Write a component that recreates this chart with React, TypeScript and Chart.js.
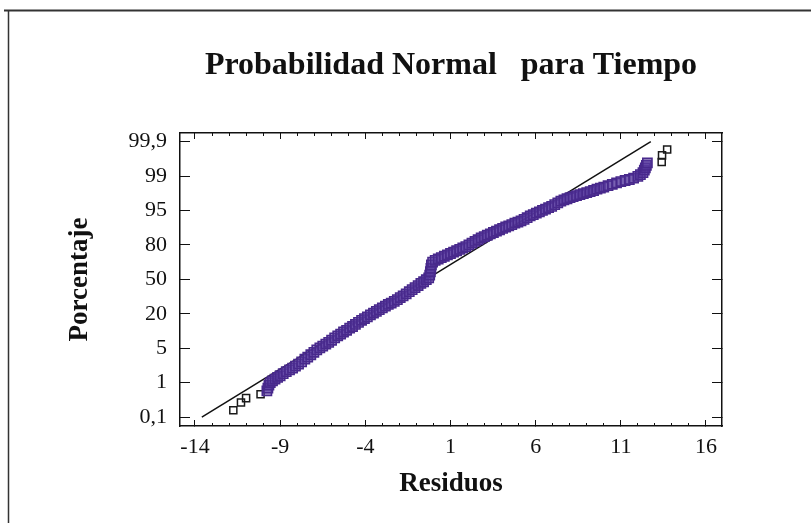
import React, { useEffect, useRef } from "react";
import { Chart, registerables } from "chart.js";

Chart.register(...registerables);

// ---- Data ----
const chartTitle = "Probabilidad Normal   para Tiempo";
const xAxisTitle = "Residuos";
const yAxisTitle = "Porcentaje";

// Probability tick labels (equally spaced positions 0..8 on the plot)
const yTickLabels = ["0,1", "1", "5", "20", "50", "80", "95", "99", "99,9"];
const yTickPositions = [0, 1, 2, 3, 4, 5, 6, 7, 8];

// Residual axis tick labels
const xMajorTicks = [-14, -9, -4, 1, 6, 11, 16];
const xMinorTicks = [
  -14, -13, -12, -11, -10, -9, -8, -7, -6, -5, -4, -3, -2, -1, 0, 1, 2, 3, 4, 5,
  6, 7, 8, 9, 10, 11, 12, 13, 14, 15, 16,
];
const xRange = [-14.88, 16.94];
const yRange = [-0.26, 8.25];

// Main residuals [residual, probability position]
const mainPoints: [number, number][] = [
  [-9.78, 0.76], [-9.72, 0.84], [-9.66, 0.93], [-9.58, 1.0], [-9.45, 1.05],
  [-9.3, 1.1], [-9.15, 1.15], [-9.0, 1.2], [-8.82, 1.26], [-8.64, 1.32],
  [-8.45, 1.37], [-8.27, 1.42], [-8.1, 1.48], [-7.92, 1.54], [-7.74, 1.6],
  [-7.55, 1.68], [-7.38, 1.74], [-7.2, 1.81], [-7.02, 1.88], [-6.85, 1.95],
  [-6.67, 2.01], [-6.5, 2.06], [-6.32, 2.12], [-6.15, 2.17], [-5.98, 2.23],
  [-5.8, 2.3], [-5.62, 2.36], [-5.45, 2.41], [-5.28, 2.47], [-5.1, 2.52],
  [-4.92, 2.58], [-4.75, 2.63], [-4.58, 2.69], [-4.4, 2.75], [-4.22, 2.81],
  [-4.05, 2.86], [-3.88, 2.91], [-3.7, 2.97], [-3.52, 3.02], [-3.35, 3.07],
  [-3.18, 3.12], [-3.0, 3.17], [-2.82, 3.22], [-2.65, 3.27], [-2.48, 3.31],
  [-2.3, 3.36], [-2.12, 3.41], [-1.95, 3.47], [-1.78, 3.52], [-1.6, 3.58],
  [-1.42, 3.64], [-1.25, 3.7], [-1.08, 3.76], [-0.9, 3.82], [-0.74, 3.88],
  [-0.58, 3.93], [-0.42, 3.99], [-0.28, 4.04], [-0.22, 4.12], [-0.18, 4.22],
  [-0.15, 4.32], [-0.12, 4.42], [-0.05, 4.5], [0.1, 4.55], [0.28, 4.59],
  [0.46, 4.63], [0.64, 4.67], [0.82, 4.71], [1.0, 4.75], [1.18, 4.79],
  [1.36, 4.83], [1.54, 4.87], [1.72, 4.91], [1.9, 4.95], [2.08, 5.0],
  [2.26, 5.05], [2.44, 5.1], [2.62, 5.15], [2.8, 5.2], [2.98, 5.24],
  [3.16, 5.28], [3.34, 5.32], [3.52, 5.36], [3.7, 5.4], [3.88, 5.44],
  [4.06, 5.48], [4.24, 5.52], [4.42, 5.55], [4.6, 5.59], [4.78, 5.63],
  [4.96, 5.66], [5.14, 5.7], [5.32, 5.74], [5.5, 5.79], [5.68, 5.84],
  [5.86, 5.88], [6.04, 5.92], [6.22, 5.96], [6.4, 6.0], [6.58, 6.04],
  [6.76, 6.08], [6.94, 6.12], [7.12, 6.17], [7.3, 6.22], [7.48, 6.27],
  [7.66, 6.31], [7.84, 6.34], [8.02, 6.37], [8.2, 6.4], [8.4, 6.43],
  [8.6, 6.46], [8.8, 6.49], [9.0, 6.52], [9.2, 6.55], [9.4, 6.58],
  [9.6, 6.62], [9.8, 6.65], [10.0, 6.68], [10.25, 6.72], [10.5, 6.76],
  [10.75, 6.8], [11.0, 6.84], [11.25, 6.87], [11.5, 6.9], [11.75, 6.94],
  [12.0, 6.99], [12.15, 7.04], [12.3, 7.1], [12.38, 7.17], [12.44, 7.24],
  [12.5, 7.31], [12.56, 7.38],
];

// Extreme residuals (black squares)
const extremePoints: [number, number][] = [
  [-11.75, 0.2], [-11.3, 0.42], [-11.0, 0.55], [-10.15, 0.66],
  [13.4, 7.41], [13.42, 7.6], [13.72, 7.77],
];

// Reference normal line endpoints
const fitLine: [number, number][] = [
  [-13.6, 0],
  [12.76, 8],
];

const FONT = "'Liberation Serif', 'Times New Roman', serif";

const framePlugin = {
  id: "pageFrame",
  beforeDraw(chart: any) {
    const c = chart.ctx;
    c.save();
    c.strokeStyle = "#333";
    c.lineWidth = 2;
    c.beginPath();
    c.moveTo(4, 10.5);
    c.lineTo(811, 10.5);
    c.stroke();
    c.lineWidth = 1.5;
    c.beginPath();
    c.moveTo(8.5, 10);
    c.lineTo(8.5, 523);
    c.stroke();
    c.restore();
  },
};

function tickAxis(position: string, values: number[], len: number, extra: any = {}) {
  const isX = position === "top" || position === "bottom";
  const range = isX ? xRange : yRange;
  return {
    type: "linear",
    position,
    min: range[0],
    max: range[1],
    afterBuildTicks: (scale: any) => {
      scale.ticks = values.map((v) => ({ value: v }));
    },
    grid: {
      display: true,
      drawOnChartArea: false,
      drawTicks: true,
      tickLength: -len,
      lineWidth: 1,
      color: "#111",
      tickColor: "#111",
    },
    border: { display: false },
    ticks: { display: false, autoSkip: false },
    afterFit: (scale: any) => {
      if (isX) scale.height = 0;
      else scale.width = 0;
    },
    ...extra,
  };
}

export default function App() {
  const ref = useRef<HTMLCanvasElement | null>(null);

  useEffect(() => {
    if (!ref.current) return;
    const chart = new Chart(ref.current, {
      type: "scatter",
      data: {
        datasets: [
          {
            label: "Residuos",
            data: mainPoints.map(([x, y]) => ({ x, y })),
            pointStyle: "rect",
            pointRadius: 6.5,
            pointHoverRadius: 6.5,
            borderWidth: 1.6,
            borderColor: "#48298c",
            backgroundColor: "rgba(88,58,158,0.55)",
            order: 1,
          },
          {
            label: "Extremos",
            data: extremePoints.map(([x, y]) => ({ x, y })),
            pointStyle: "rect",
            pointRadius: 5,
            pointHoverRadius: 5,
            borderWidth: 1.5,
            borderColor: "#1a1a1a",
            backgroundColor: "rgba(255,255,255,0)",
            order: 1,
          },
          {
            label: "Normal",
            data: fitLine.map(([x, y]) => ({ x, y })),
            showLine: true,
            pointRadius: 0,
            borderColor: "#111",
            borderWidth: 1.5,
            order: 2,
          } as any,
        ],
      },
      options: {
        animation: false,
        responsive: true,
        maintainAspectRatio: false,
        layout: { padding: 0 },
        plugins: {
          legend: { display: false },
          tooltip: { enabled: false },
          title: {
            display: true,
            text: chartTitle,
            fullSize: false,
            color: "#111",
            font: { family: FONT, size: 32, weight: "bold" },
            padding: { top: 46.8, bottom: 47.8 },
          },
        },
        scales: {
          x: {
            type: "linear",
            position: "bottom",
            weight: 1,
            min: xRange[0],
            max: xRange[1],
            afterBuildTicks: (scale: any) => {
              scale.ticks = xMajorTicks.map((v) => ({ value: v }));
            },
            afterFit: (scale: any) => {
              scale.height = 97;
            },
            grid: {
              display: true,
              drawOnChartArea: false,
              drawTicks: true,
              tickLength: -6,
              lineWidth: 1,
              color: "#111",
              tickColor: "#111",
            },
            border: { display: true, color: "#111", width: 1.5 },
            ticks: {
              autoSkip: false,
              maxRotation: 0,
              padding: 14.3,
              color: "#111",
              font: { family: FONT, size: 22 },
              callback: (v: any) => String(v),
            },
            title: {
              display: true,
              text: xAxisTitle,
              color: "#111",
              font: { family: FONT, size: 27, weight: "bold" },
              padding: { top: 0, bottom: 22.8 },
            },
          },
          xMinor: tickAxis("bottom", xMinorTicks, 3, { weight: 0 }),
          xTop: tickAxis("top", xMajorTicks, 6, {
            weight: 0,
            border: { display: true, color: "#111", width: 1.5 },
          }),
          xTopMinor: tickAxis("top", xMinorTicks, 3, { weight: 0 }),
          y: {
            type: "linear",
            position: "left",
            min: yRange[0],
            max: yRange[1],
            afterBuildTicks: (scale: any) => {
              scale.ticks = yTickPositions.map((v) => ({ value: v }));
            },
            afterFit: (scale: any) => {
              scale.width = 180;
            },
            grid: {
              display: true,
              drawOnChartArea: false,
              drawTicks: true,
              tickLength: -10,
              lineWidth: 1,
              color: "#111",
              tickColor: "#111",
            },
            border: { display: true, color: "#111", width: 1.5 },
            ticks: {
              autoSkip: false,
              padding: 23,
              color: "#111",
              font: { family: FONT, size: 22 },
              callback: (v: any) => {
                const i = yTickPositions.indexOf(Number(v));
                return i >= 0 ? yTickLabels[i] : "";
              },
            },
            title: {
              display: true,
              text: yAxisTitle,
              color: "#111",
              font: { family: FONT, size: 27, weight: "bold" },
              padding: { top: 64, bottom: 0 },
            },
          },
          yRight: {
            ...tickAxis("right", yTickPositions, 10),
            afterFit: (scale: any) => {
              scale.width = 89;
            },
            border: { display: true, color: "#111", width: 1.5 },
          },
        } as any,
      },
      plugins: [framePlugin],
    });
    return () => chart.destroy();
  }, []);

  return (
    <div
      style={{
        position: "absolute",
        left: 0,
        top: 0,
        width: 811,
        height: 523,
        background: "#fff",
      }}
    >
      <canvas ref={ref} />
    </div>
  );
}
